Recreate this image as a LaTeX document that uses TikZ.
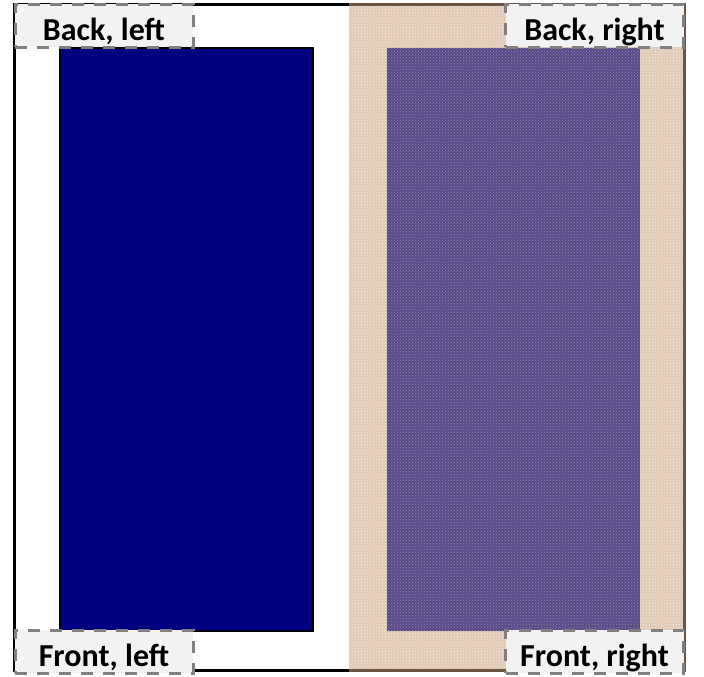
\documentclass[tikz,border=0pt]{standalone}
\usepackage{fontspec}
\setmainfont{Carlito}
\usetikzlibrary{positioning,patterns}

\definecolor{navyfill}{HTML}{000080}
\definecolor{beigefill}{HTML}{E0C9B4}
\definecolor{purplefill}{HTML}{5A4B88}
\definecolor{brownline}{HTML}{6B5443}
\definecolor{labelfill}{HTML}{F2F2F2}
\definecolor{labelline}{HTML}{808080}

\tikzset{
  cornerlabel/.style={draw=labelline, fill=labelfill, line width=3pt,
    dash pattern=on 12pt off 10pt, rectangle, minimum width=178pt,
    minimum height=43pt, inner sep=0pt, text height=29pt, text depth=0pt,
    font=\fontsize{32}{36}\selectfont\bfseries},
}

\begin{document}
\begin{tikzpicture}[x=1pt,y=-1pt]
        \useasboundingbox (0,0) rectangle (704,677);

        % Define the two halves
        \node[rectangle, fill=white, minimum width=334pt, minimum height=665pt, inner sep=0pt] (leftpanel) at (182,337.5) {};
        \node[rectangle, fill=beigefill, minimum width=335pt, minimum height=665pt, inner sep=0pt] (rightpanel) at (516.5,337.5) {};
        \fill[pattern=crosshatch dots, pattern color=white!70!beigefill] (rightpanel.north west) rectangle (rightpanel.south east);

        % Outer borders
        \draw[line width=3pt] (leftpanel.north east) -- (leftpanel.north west) -- (leftpanel.south west) -- (leftpanel.south east);
        \draw[line width=3pt, brownline] (rightpanel.north west) -- (rightpanel.north east) -- (rightpanel.south east) -- (rightpanel.south west);

        % Inner blocks
        \node[draw, line width=1.5pt, fill=navyfill, rectangle, minimum width=253pt, minimum height=583pt, inner sep=0pt] (blueblock) at (186.5,339.5) {};
        \node[fill=purplefill, rectangle, minimum width=253pt, minimum height=583pt, inner sep=0pt] (purpleblock) at (513.5,339.5) {};
        \fill[pattern=crosshatch dots, pattern color=purplefill!70!white] (purpleblock.north west) rectangle (purpleblock.south east);

        % Corner labels
        \node[cornerlabel] (backleft) at (104,26) {Back, left};
        \node[cornerlabel] (backright) at (594.5,26) {Back, right};
        \node[cornerlabel] (frontleft) at (104,651.5) {Front, left};
        \node[cornerlabel] (frontright) at (594.5,651.5) {Front, right};
    \end{tikzpicture}
\end{document}
